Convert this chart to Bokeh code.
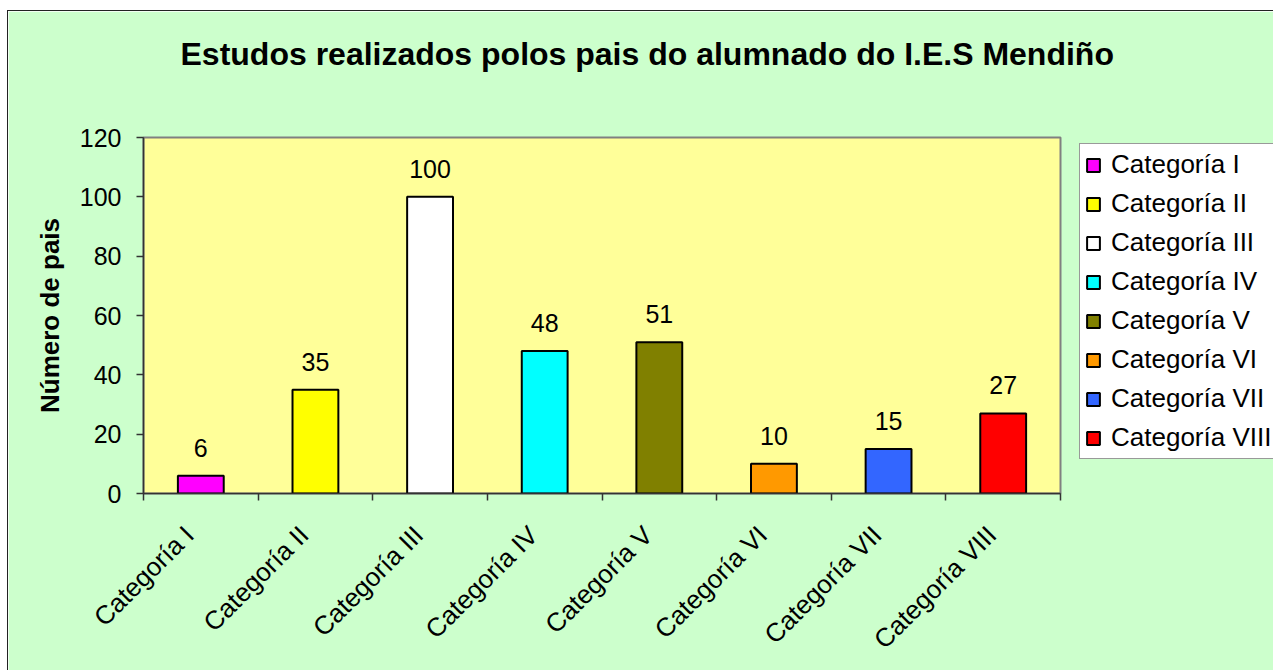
import math
from bokeh.plotting import figure
from bokeh.models import (ColumnDataSource, Range1d, FixedTicker, CustomJSTickFormatter,
                          Legend, LegendItem, LabelSet)
from bokeh.core.properties import value
from bokeh.embed import file_html
from bokeh.resources import INLINE

categories = ["Categoría I", "Categoría II", "Categoría III", "Categoría IV",
              "Categoría V", "Categoría VI", "Categoría VII", "Categoría VIII"]
counts = [6, 35, 100, 48, 51, 10, 15, 27]
colors = ["#FF00FF", "#FFFF00", "#FFFFFF", "#00FFFF", "#808000", "#FF9900", "#3366FF", "#FF0000"]
y_ticks = [0, 20, 40, 60, 80, 100, 120]
title_text = "Estudos realizados polos pais do alumnado do I.E.S Mendiño"
y_label = "Número de pais"

FONT = "Liberation Sans"
n = len(categories)
centers = [i + 0.5 for i in range(n)]
label_pos = [c - 0.1 for c in centers]
bounds = list(range(n + 1))

src = ColumnDataSource(dict(x=centers, top=counts, color=colors, cat=categories,
                            txt=[str(c) for c in counts]))

p = figure(frame_width=917, frame_height=356, output_backend="svg", toolbar_location=None,
           x_range=Range1d(0, n), y_range=Range1d(0, 120),
           min_border_left=135, min_border_right=213, min_border_top=126, min_border_bottom=177)
p.styles = {"border-left": "1px solid #222222", "border-top": "1px solid #222222",
            "margin-left": "7px", "margin-top": "10px"}

p.background_fill_color = "#FFFF99"
p.border_fill_color = "#CCFFCC"
p.outline_line_color = "#808080"
p.outline_line_width = 2
p.xgrid.visible = False
p.ygrid.visible = False

r = p.vbar(x="x", top="top", width=0.4, source=src, fill_color="color",
           line_color="black", line_width=2)

labels = LabelSet(x="x", y="top", text="txt", source=src, text_align="center",
                  text_baseline="alphabetic", y_offset=19, text_font=value(FONT),
                  text_font_size=value("25px"), text_color="black")
p.add_layout(labels)

# axes
xa = p.xaxis[0]
xa.ticker = FixedTicker(ticks=label_pos, minor_ticks=bounds)
xa.formatter = CustomJSTickFormatter(args=dict(labels=categories),
                                     code="return labels[Math.floor(tick)];")
xa.major_tick_in = 0
xa.major_tick_out = 0
xa.minor_tick_in = 0
xa.minor_tick_out = 7
xa.minor_tick_line_color = "#333333"
xa.minor_tick_line_width = 1.5
xa.axis_line_color = "#333333"
xa.axis_line_width = 1.5
xa.major_label_orientation = math.pi / 4
xa.major_label_text_font = FONT
xa.major_label_text_font_size = "26px"
xa.major_label_text_color = "black"
xa.major_label_standoff = 30

ya = p.yaxis[0]
ya.ticker = FixedTicker(ticks=y_ticks)
ya.minor_tick_line_color = None
ya.major_tick_in = 0
ya.major_tick_out = 7
ya.major_tick_line_color = "#333333"
ya.major_tick_line_width = 1.5
ya.axis_line_color = "#333333"
ya.axis_line_width = 1.5
ya.major_label_text_font = FONT
ya.major_label_text_font_size = "25px"
ya.major_label_text_color = "black"
ya.major_label_standoff = 15
ya.axis_label = y_label
ya.axis_label_text_font = FONT
ya.axis_label_text_font_size = "26px"
ya.axis_label_text_font_style = "bold"
ya.axis_label_text_color = "black"
ya.axis_label_standoff = 12

# title (a second, blank line lifts the visible line higher above the frame)
p.title.text = title_text + "\n "
p.title.text_font = FONT
p.title.text_font_size = "32px"
p.title.text_font_style = "bold"
p.title.text_color = "black"
p.title.text_line_height = 1.5
p.title.align = "left"
p.title.offset = 37
p.title.standoff = 24

# legend
items = [LegendItem(label=categories[i], renderers=[r], index=i) for i in range(n)]
legend = Legend(items=items, location=(19, 34), margin=0, padding=5, spacing=8,
                glyph_width=16, glyph_height=16, label_height=30, label_standoff=10,
                label_text_font=FONT, label_text_font_size="26px", label_text_color="black",
                border_line_color="#333333", border_line_width=1.5,
                background_fill_color="white", background_fill_alpha=1.0)
p.add_layout(legend, "right")

open("out.html", "w").write(file_html(p, INLINE))
